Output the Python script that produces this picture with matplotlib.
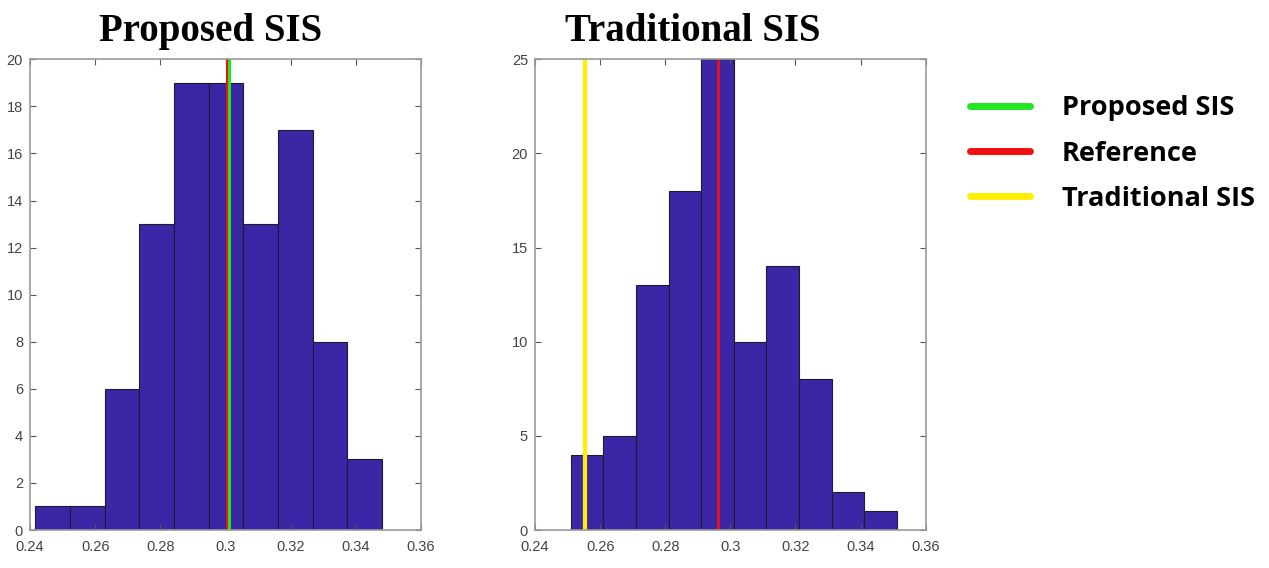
import numpy as np
import matplotlib
matplotlib.use("Agg")
import matplotlib.pyplot as plt
from matplotlib.lines import Line2D

# histogram counts
prop_counts = [1, 1, 6, 13, 19, 19, 13, 17, 8, 3]
prop_edges = np.linspace(0.2417, 0.3480, 11)
trad_counts = [4, 5, 13, 18, 25, 10, 14, 8, 2, 1]
trad_edges = np.linspace(0.2510, 0.3511, 11)

# vertical marker lines
ref_left = 0.3004
prop_val = 0.3012
ref_right = 0.2963
trad_val = 0.2553

titles = ["Proposed SIS", "Traditional SIS"]
legend_labels = ["Proposed SIS", "Reference", "Traditional SIS"]

bar_col = "#3B27A6"
green = "#22E622"
red = "#F01010"
yellow = "#FFF000"

fig = plt.figure(figsize=(12.69, 5.68), dpi=100)
ax1 = fig.add_axes([0.0236, 0.0669, 0.3082, 0.8287])
ax2 = fig.add_axes([0.4216, 0.0669, 0.3079, 0.8287])

for ax, counts, edges, ymax, ystep in [(ax1, prop_counts, prop_edges, 20, 2),
                                        (ax2, trad_counts, trad_edges, 25, 5)]:
    ax.hist(edges[:-1], bins=edges, weights=counts, color=bar_col,
            edgecolor="#1c1c2c", linewidth=0.8)
    ax.set_xlim(0.24, 0.36)
    ax.set_ylim(0, ymax)
    ax.set_xticks(np.arange(0.24, 0.361, 0.02))
    ax.set_xticklabels(["0.24", "0.26", "0.28", "0.3", "0.32", "0.34", "0.36"])
    ax.set_yticks(np.arange(0, ymax + 1, ystep))
    ax.tick_params(direction="in", top=True, right=True, length=4, width=0.8,
                   color="#555555", labelcolor="#444444", labelsize=10.5)
    ax.tick_params(axis="x", pad=7)
    ax.tick_params(axis="y", pad=5)
    for lab in ax.get_xticklabels() + ax.get_yticklabels():
        lab.set_family("Liberation Sans")
    for s in ax.spines.values():
        s.set_color("#999999")
        s.set_linewidth(1.2)

ax1.axvline(ref_left, color=red, lw=2.2)
ax1.axvline(prop_val, color=green, lw=2.2)
ax2.axvline(ref_right, color=red, lw=2)
ax2.axvline(trad_val, color=yellow, lw=3)

fig.text(0.166, 0.945, titles[0], ha="center", va="center", family="Liberation Serif",
         weight="bold", fontsize=28)
fig.text(0.546, 0.945, titles[1], ha="center", va="center", family="Liberation Serif",
         weight="bold", fontsize=28)

handles = [Line2D([], [], color=c, lw=5, solid_capstyle="round")
           for c in [green, red, yellow]]
leg = fig.legend(handles, legend_labels, loc="upper left", bbox_to_anchor=(0.7644, 0.832),
                 frameon=False, borderpad=0, borderaxespad=0,
                 handlelength=2.2, handletextpad=1.2, labelspacing=0.71,
                 prop={"family": "Open Sans", "weight": "bold", "size": 19.5})

fig.savefig("out.png", dpi=100, facecolor="white")
